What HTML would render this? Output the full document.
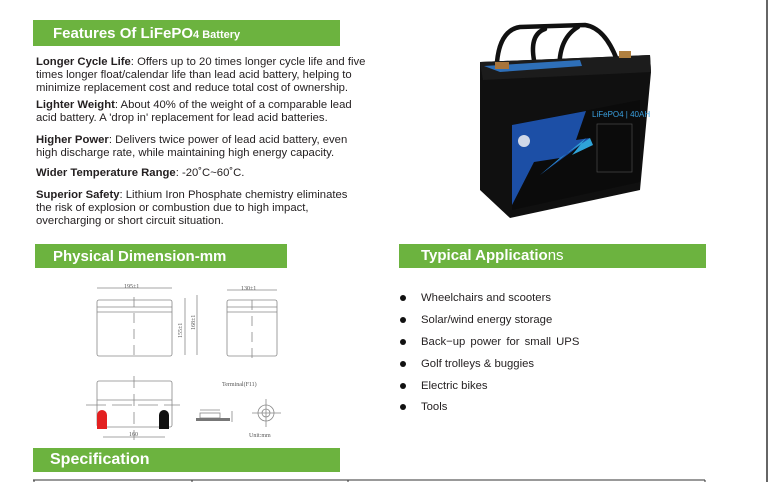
<!DOCTYPE html>
<html><head><meta charset="utf-8"><style>
body{margin:0;width:768px;height:482px;overflow:hidden;background:#fff;font-family:"Liberation Sans",sans-serif;position:relative;color:#231f20}
.bar{position:absolute;background:#6cb33f;color:#fff;font-weight:bold}
.p{position:absolute;left:36px;width:360px;font-size:11.3px;line-height:12.8px;white-space:nowrap}
.li{position:absolute;left:421px;font-size:11.3px}
.dot{position:absolute;left:400px;width:6px;height:6px;border-radius:50%;background:#111}
</style></head><body>
<div class="bar" style="left:33px;top:20px;width:307px;height:26px;font-size:15px;line-height:27px;"><span style="padding-left:20px">Features Of LiFePO</span><span style="font-size:11px">4 Battery</span></div>
<div class="p" style="top:56px"><b>Longer Cycle Life</b>: Offers up to 20 times longer cycle life and five<br>times longer float/calendar life than lead acid battery, helping to<br>minimize replacement cost and reduce total cost of ownership.</div>
<div class="p" style="top:99px"><b>Lighter Weight</b>: About 40% of the weight of a comparable lead<br>acid battery. A 'drop in' replacement for lead acid batteries.</div>
<div class="p" style="top:134px"><b>Higher Power</b>: Delivers twice power of lead acid battery, even<br>high discharge rate, while maintaining high energy capacity.</div>
<div class="p" style="top:167px"><b>Wider Temperature Range</b>: -20˚C~60˚C.</div>
<div class="p" style="top:189px"><b>Superior Safety</b>: Lithium Iron Phosphate chemistry eliminates<br>the risk of explosion or combustion due to high impact,<br>overcharging or short circuit situation.</div>

<svg style="position:absolute;left:0;top:0" width="768" height="482">
<g fill="none" stroke="#111" stroke-width="4.5" stroke-linecap="round">
<path d="M497 62 Q500 30 520 27 L585 25 Q605 28 617 60"/>
<path d="M535 65 Q528 35 545 29"/>
<path d="M560 78 Q556 40 578 27"/>
</g>
<polygon points="480,62 650,55 651,72 640,190 510,218 480,190" fill="#101010"/>
<polygon points="480,62 650,55 651,72 483,80" fill="#1c1c1c"/>
<polygon points="484,66 580,60 582,66 500,72" fill="#2e6fb8"/>
<rect x="495" y="62" width="14" height="7" fill="#a8743a"/>
<rect x="619" y="51" width="12" height="7" fill="#b08040"/>
<polygon points="512,125 640,100 640,182 512,210" fill="#0b0b0b"/>
<polygon points="512,125 586,111 576,140 590,138 540,175 560,158 534,162 512,205" fill="#1c4fa6"/>
<polygon points="540,175 586,138 572,155 593,145 590,138 560,158" fill="#2fa3d8"/>
<circle cx="524" cy="141" r="6" fill="#cfd8e8"/>
<text x="592" y="117" font-size="8" fill="#3aa0e0" font-family="Liberation Sans">LiFePO4 | 40AH</text>
<rect x="597" y="124" width="35" height="48" fill="none" stroke="#555" stroke-width="0.6"/>
<line x1="767" y1="0" x2="767" y2="482" stroke="#333" stroke-width="1.5"/>
<g stroke="#888" stroke-width="0.8" fill="none">
<rect x="97" y="300" width="75" height="56" rx="2"/>
<line x1="97" y1="307" x2="172" y2="307"/><line x1="97" y1="312" x2="172" y2="312"/>
<line x1="134" y1="297" x2="134" y2="360" stroke-dasharray="10 6"/>
<line x1="97" y1="288" x2="172" y2="288"/>
<line x1="185" y1="298" x2="185" y2="355"/><line x1="197" y1="295" x2="197" y2="355"/>
<rect x="227" y="300" width="50" height="56" rx="2"/>
<line x1="227" y1="307" x2="277" y2="307"/><line x1="227" y1="312" x2="277" y2="312"/>
<line x1="252" y1="300" x2="252" y2="363" stroke-dasharray="10 6"/>
<line x1="227" y1="290" x2="277" y2="290"/>
<rect x="97" y="381" width="75" height="46" rx="2"/>
<line x1="97" y1="400" x2="172" y2="400"/>
<line x1="134" y1="376" x2="134" y2="440" stroke-dasharray="12 6"/>
<line x1="86" y1="405" x2="180" y2="405" stroke-dasharray="20 6"/>
<line x1="103" y1="437" x2="165" y2="437"/>
<line x1="200" y1="410" x2="220" y2="410"/>
<rect x="200" y="413" width="20" height="5"/>
<line x1="232" y1="411" x2="232" y2="422"/>
<circle cx="266" cy="413" r="8"/><circle cx="266" cy="413" r="4"/>
<line x1="252" y1="413" x2="281" y2="413"/><line x1="266" y1="399" x2="266" y2="427"/>
</g>
<rect x="196" y="418" width="34" height="3" fill="#777"/>
<path d="M97 415 a5 5 0 0 1 10 0 v14 h-10z" fill="#e32020"/>
<path d="M159 415 a5 5 0 0 1 10 0 v14 h-10z" fill="#111"/>
<g font-family="Liberation Serif" font-size="6" fill="#555">
<text x="124" y="288">195±1</text><text x="241" y="290">130±1</text>
<text x="129" y="436">160</text><text x="222" y="386">Terminal(F11)</text>
<text x="249" y="437">Unit:mm</text>
<text transform="translate(182,338) rotate(-90)">155±1</text>
<text transform="translate(195,330) rotate(-90)">168±1</text>
</g>
<g stroke="#333" stroke-width="1"><line x1="33" y1="480" x2="705" y2="480"/><line x1="34" y1="480" x2="34" y2="482"/><line x1="192" y1="480" x2="192" y2="482"/><line x1="348" y1="480" x2="348" y2="482"/><line x1="705" y1="480" x2="705" y2="482"/></g>
</svg>

<div class="bar" style="left:35px;top:244px;width:252px;height:24px;font-size:15px;line-height:25px;"><span style="padding-left:18px">Physical Dimension-mm</span></div>
<div class="bar" style="left:399px;top:244px;width:307px;height:24px;font-size:15px;line-height:24px;"><span style="padding-left:22px">Typical Applicatio</span><span style="font-weight:normal">ns</span></div>
<div class="bar" style="left:33px;top:448px;width:307px;height:24px;font-size:16px;line-height:24px;"><span style="padding-left:17px">Specification</span></div>

<div class="dot" style="top:295px"></div><div class="li" style="top:292px">Wheelchairs and scooters</div>
<div class="dot" style="top:317px"></div><div class="li" style="top:314px">Solar/wind energy storage</div>
<div class="dot" style="top:339px"></div><div class="li" style="top:336px;word-spacing:2px">Back−up power for small UPS</div>
<div class="dot" style="top:361px"></div><div class="li" style="top:358px">Golf trolleys &amp; buggies</div>
<div class="dot" style="top:383px"></div><div class="li" style="top:380px">Electric bikes</div>
<div class="dot" style="top:404px"></div><div class="li" style="top:401px">Tools</div>
</body></html>
